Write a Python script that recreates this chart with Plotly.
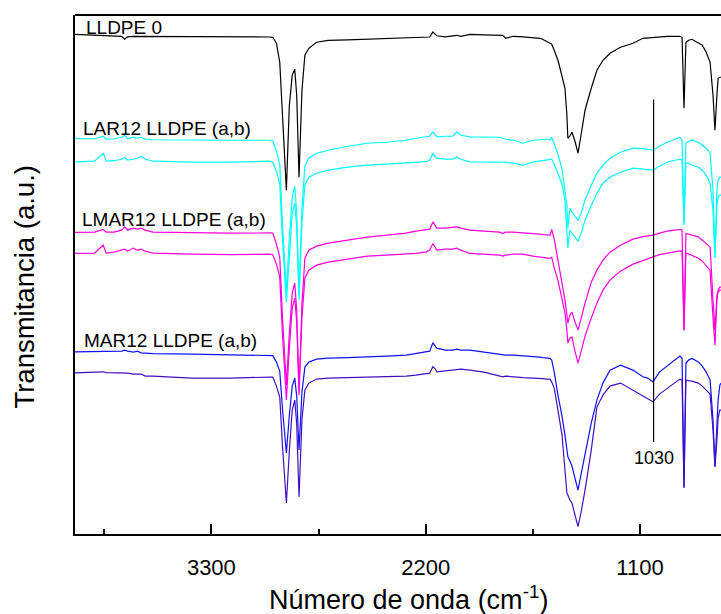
import plotly.graph_objects as go

# Wavenumber grid (cm-1), descending
wavenumber = [4000, 3900, 3855, 3840, 3800, 3760, 3745, 3730, 3700, 3680,
              3660, 3640, 3600, 3400, 3200, 3000, 2985, 2966, 2949, 2935,
              2915, 2900, 2885, 2872, 2862, 2850, 2835, 2820, 2800, 2760,
              2700, 2600, 2500, 2400, 2300, 2250, 2200, 2179, 2163, 2150,
              2143, 2100, 2060, 2040, 2020, 1973, 1900, 1819, 1804, 1790,
              1750, 1700, 1650, 1614, 1600, 1580, 1562, 1553, 1540, 1521,
              1500, 1485, 1475, 1470, 1460, 1449, 1435, 1418, 1400, 1382,
              1350, 1321, 1290, 1254, 1200, 1136, 1085, 1060, 1033, 1000,
              960, 920, 895, 884, 874, 864, 850, 833, 800, 780,
              760, 740, 725, 715, 705, 699, 690, 684]

# Transmittance (a.u., stacked with offsets)
lldpe0 = [500, 499, 499, 498.5, 498, 498, 495, 497.5, 498, 498,
          498, 498, 498, 497.5, 497.5, 497.3, 497, 491, 472, 413,
          344, 428, 459, 465, 439, 357, 444, 479, 486, 492,
          494, 494.5, 495, 495.5, 496, 496.5, 497, 497.3, 502.3, 500,
          498.5, 497.5, 498, 499, 498, 500, 499.5, 499, 499, 496,
          498, 497.5, 497, 496, 495, 493, 491, 490, 484, 474,
          458, 446, 419, 396, 398, 402, 394, 381, 402, 424,
          446, 464, 474, 481, 487, 491, 496, 496.5, 497, 497.5,
          498, 498, 498, 497, 426, 492, 494, 495, 491, 489,
          482, 472, 439, 404, 439, 456, 457, 457]

lar12_a = [395.7, 395.5, 398, 395, 395.5, 397, 399, 395.5, 397, 396,
           397, 395, 394.5, 394, 394, 394, 393, 383, 370, 310,
           242, 295, 337, 348, 321, 239, 326, 368, 376, 381,
           384, 388, 391, 392, 394, 396, 397, 398, 402.3, 399,
           397.3, 398, 398, 402.3, 399, 397.3, 397, 397, 396, 395,
           394, 391, 394, 394.5, 395, 395, 394.5, 397, 390, 380,
           365, 346, 329, 306, 326, 322, 318, 314, 322, 334,
           349, 361, 369, 376, 382, 386, 385.5, 385, 384, 388,
           392, 395, 397, 394, 312, 391, 393, 394, 392, 389,
           386, 381, 344, 279, 344, 354, 357, 357]

lar12_b = [372.3, 373, 381, 373, 373.5, 375, 377, 374, 375, 376,
           378, 375, 373, 372, 372, 373, 372, 363, 350, 295,
           232, 281, 321, 331, 307, 234, 312, 349, 357, 361,
           364, 367, 369, 370, 371, 372, 372.5, 374, 381, 377,
           376, 375, 375, 377.3, 375, 372.3, 372.3, 372.3, 372.3, 372,
           371, 369, 372, 373, 373.5, 374, 374, 375, 370, 360,
           350, 334, 306, 286, 304, 301, 297, 293, 302, 314,
           329, 341, 351, 357, 362, 366, 365, 364.5, 364, 368,
           372, 374, 375, 374, 309, 371, 371, 369, 367, 364,
           359, 351, 324, 276, 329, 337, 339, 339]

lmar12_a = [301.7, 302, 304.7, 302, 302, 304, 307.3, 304, 306, 305,
            306, 304, 302, 301.5, 301, 301.3, 301, 290, 277, 217,
            149, 200, 241, 251, 224, 144, 230, 276, 284, 288,
            291, 294, 297, 299, 301, 303, 304, 305, 312.3, 308,
            306, 306, 307, 307.3, 306, 304, 303, 302, 300.7, 302,
            302, 301.5, 301, 300, 299.5, 299, 299, 304.7, 295, 274,
            252, 234, 219, 211, 219, 222, 213, 204, 217, 231,
            252, 264, 274, 282, 289, 295, 297.5, 298, 299, 301,
            303, 304, 304.7, 304, 204, 300.7, 300, 299, 297.3, 294,
            290, 287, 234, 204, 239, 242, 244, 244]

lmar12_b = [280.7, 281, 289, 281, 282, 284, 285, 283, 286, 284,
            285, 283, 281, 280, 279.5, 280, 279.5, 270, 257, 200,
            134, 185, 226, 236, 212, 139, 217, 256, 264, 269,
            272, 275, 278, 279, 280, 280.7, 282, 284, 290.7, 286,
            284, 285, 285, 286, 284, 280.7, 280, 279, 278, 279,
            280, 280, 278, 277, 276.5, 276, 275.7, 277, 266, 254,
            234, 221, 204, 191, 196, 197, 184, 171, 184, 198,
            216, 231, 244, 254, 263, 270, 273.5, 275, 277.3, 279.5,
            281, 282.5, 283.3, 283, 204, 281.3, 280, 279, 276, 273,
            269, 264, 216, 189, 234, 244, 247, 247]

mar12_a = [182.3, 182.5, 183, 182.5, 182.5, 183, 184, 183, 182, 183,
           181.3, 181, 180.5, 180, 179.5, 179, 178.5, 172, 163, 125,
           81, 118, 148, 156, 138, 84, 142, 167, 172, 175,
           176, 176.5, 177, 178, 179, 180.5, 182, 183, 191.3, 187,
           186, 184, 184, 185, 184, 184, 182, 180, 179, 179,
           179, 178.5, 178, 177, 176.5, 176, 175.7, 174, 162, 139,
           118, 99, 84, 77.3, 73, 68, 57, 44, 62, 79,
           111, 134, 151, 164, 169, 164, 157.3, 156, 152.3, 162,
           168, 174, 178, 176, 46, 171, 174, 175.7, 172, 168,
           162, 154, 114, 67.3, 109, 134, 149, 151]

mar12_b = [161.3, 161.5, 162.3, 161.5, 161.5, 161.5, 161.3, 161, 160, 160,
           160, 158, 158, 156, 156, 157, 157, 148, 137, 88,
           31, 82, 124, 134, 110, 37, 115, 144, 151, 155,
           156, 156.5, 157, 157, 158, 159, 160, 161, 167.3, 165,
           162.3, 163, 164, 164, 165, 164, 162, 158, 157.3, 158,
           157, 156.5, 156, 156, 155.5, 155, 155, 152, 146, 124,
           99, 64, 41, 39, 34, 31, 19, 7.3, 24, 44,
           84, 127, 139, 148, 151, 144, 138, 135.5, 132.3, 140,
           146, 152, 155, 154, 47.3, 154, 153.5, 153, 151, 148,
           144, 140, 104, 67.3, 94, 116, 124, 124]

series = [
    ("LLDPE 0", lldpe0, "#000000"),
    ("LAR12 LLDPE a", lar12_a, "#00ffff"),
    ("LAR12 LLDPE b", lar12_b, "#00ffff"),
    ("LMAR12 LLDPE a", lmar12_a, "#ff00dc"),
    ("LMAR12 LLDPE b", lmar12_b, "#ff00dc"),
    ("MAR12 LLDPE a", mar12_a, "#1010ff"),
    ("MAR12 LLDPE b", mar12_b, "#4010c0"),
]

# Band marker at 1030 cm-1
band_x = 1030
band_y = [92, 434.7]

labels = [
    ("LLDPE 0", 3956, 507),
    ("LAR12 LLDPE (a,b)", 3968, 406),
    ("LMAR12 LLDPE (a,b)", 3973, 315),
    ("MAR12 LLDPE (a,b)", 3965, 194),
]

FONT = "Arial, Liberation Sans, sans-serif"

fig = go.Figure()
for name, ys, color in series:
    fig.add_trace(go.Scatter(x=wavenumber, y=ys, mode="lines", name=name,
                             line=dict(color=color, width=1.2)))

fig.add_trace(go.Scatter(x=[band_x, band_x], y=band_y, mode="lines",
                         line=dict(color="black", width=1.2), showlegend=False))

for text, x, y in labels:
    fig.add_annotation(x=x, y=y, text=text, showarrow=False, xanchor="left",
                       yanchor="middle", font=dict(size=19, family=FONT, color="black"))

fig.add_annotation(x=band_x, y=76, text=str(band_x), showarrow=False,
                   xanchor="center", yanchor="middle",
                   font=dict(size=18, family=FONT, color="black"))

# Axis titles
fig.add_annotation(xref="paper", yref="paper", x=0.5155, y=-0.123,
                   text="Número de onda (cm<sup>-1</sup>)", showarrow=False,
                   xanchor="center", yanchor="middle",
                   font=dict(size=27, family=FONT, color="black"))
fig.add_annotation(xref="paper", yref="paper", x=-0.078, y=0.476,
                   text="Transmitancia (a.u.)", showarrow=False, textangle=-90,
                   xanchor="center", yanchor="middle",
                   font=dict(size=27.5, family=FONT, color="black"))

# Top frame line
fig.add_shape(type="line", xref="paper", yref="paper", x0=0, x1=1, y0=1, y1=1,
              line=dict(color="black", width=2))

fig.update_xaxes(range=[4000, 684], tickvals=[3300, 2200, 1100],
                 ticktext=["3300", "2200", "1100"], ticks="inside", ticklen=10,
                 tickwidth=1.5, tickcolor="black", showline=True, linewidth=2,
                 linecolor="black", showgrid=False, zeroline=False,
                 tickfont=dict(size=22, family=FONT, color="black"),
                 ticklabelstandoff=13,
                 minor=dict(tickvals=[3850, 2750, 1650], ticks="inside", ticklen=5,
                            tickwidth=1.5, tickcolor="black", showgrid=False))
fig.update_yaxes(range=[0, 519.3], showticklabels=False, ticks="", showline=True,
                 linewidth=2, linecolor="black", showgrid=False, zeroline=False)

fig.update_layout(width=721, height=614, margin=dict(l=75, r=0, t=15, b=80),
                  plot_bgcolor="white", paper_bgcolor="white", showlegend=False,
                  font=dict(family=FONT, color="black"))

fig.write_html("out.html")
